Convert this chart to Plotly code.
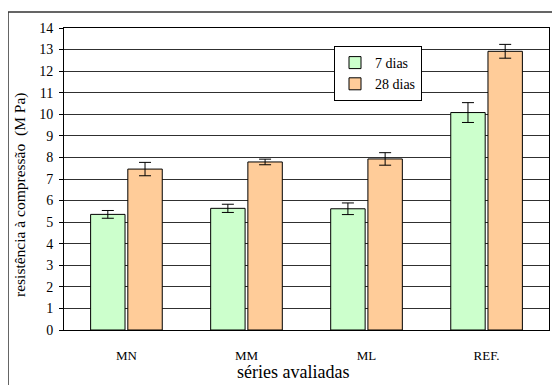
import plotly.graph_objects as go

categories = ["MN", "MM", "ML", "REF."]
dias7 = [5.36, 5.64, 5.62, 10.08]
dias7_err = [0.18, 0.19, 0.27, 0.46]
dias28 = [7.46, 7.79, 7.93, 12.92]
dias28_err = [0.31, 0.13, 0.29, 0.32]
y_ticks = list(range(0, 15))

FONT = "Times New Roman"

fig = go.Figure()
fig.add_trace(go.Bar(
    name="7 dias", x=categories, y=dias7,
    marker=dict(color="#CCFFCC", line=dict(color="black", width=1)),
    error_y=dict(type="data", array=dias7_err, color="black", thickness=1, width=6),
))
fig.add_trace(go.Bar(
    name="28 dias", x=categories, y=dias28,
    marker=dict(color="#FFCC99", line=dict(color="black", width=1)),
    error_y=dict(type="data", array=dias28_err, color="black", thickness=1, width=6),
))

# page offset of 8px (body margin) -> figure coordinates
L, R, T, B = 56, 19, 20, 63
W, H = 560, 385
pw, ph = W - L - R, H - T - B

def px_x(sx):  # screen x -> paper x
    return (sx - 8 - L) / pw

def px_y(sy):  # screen y -> paper y
    return (H - B - (sy - 8)) / ph

fig.update_layout(
    width=W, height=H,
    margin=dict(l=L, r=R, t=T, b=B, autoexpand=False),
    paper_bgcolor="white", plot_bgcolor="white",
    font=dict(family=FONT, color="black", size=12),
    barmode="group", bargap=0.38, bargroupgap=0.075,
    showlegend=True,
    legend=dict(
        x=px_x(334), y=px_y(46), xanchor="left", yanchor="top",
        bgcolor="white", bordercolor="black", borderwidth=1,
        font=dict(family=FONT, size=14), tracegroupgap=0,
        itemwidth=30,
    ),
    xaxis=dict(
        range=[-0.52, 3.52],
        showgrid=False, showline=True, linecolor="black", linewidth=1, mirror=True,
        ticks="", ticklabelstandoff=13,
        tickfont=dict(family=FONT, size=13),
    ),
    yaxis=dict(
        range=[0, 14], tickvals=y_ticks, showgrid=True, gridcolor="#303030", gridwidth=1,
        showline=True, linecolor="black", linewidth=1, mirror=True,
        ticks="outside", ticklen=4, tickcolor="black", ticklabelstandoff=3,
        tickfont=dict(family=FONT, size=14),
        zeroline=False,
    ),
    annotations=[
        dict(text="séries avaliadas", xref="paper", yref="paper",
             x=px_x(293), y=px_y(372), xanchor="center", yanchor="middle",
             showarrow=False, font=dict(family=FONT, size=18)),
        dict(text="resistência à compressão  (M Pa)", xref="paper", yref="paper",
             x=px_x(20), y=px_y(195), xanchor="center", yanchor="middle", textangle=-90,
             showarrow=False, font=dict(family=FONT, size=15.5)),
    ],
    shapes=[dict(
        type="rect", xref="paper", yref="paper",
        x0=px_x(8), x1=px_x(575), y0=px_y(400), y1=px_y(12),
        line=dict(color="#333333", width=1.5), fillcolor="rgba(0,0,0,0)", layer="below",
    )],
)

fig.write_html("out.html")
